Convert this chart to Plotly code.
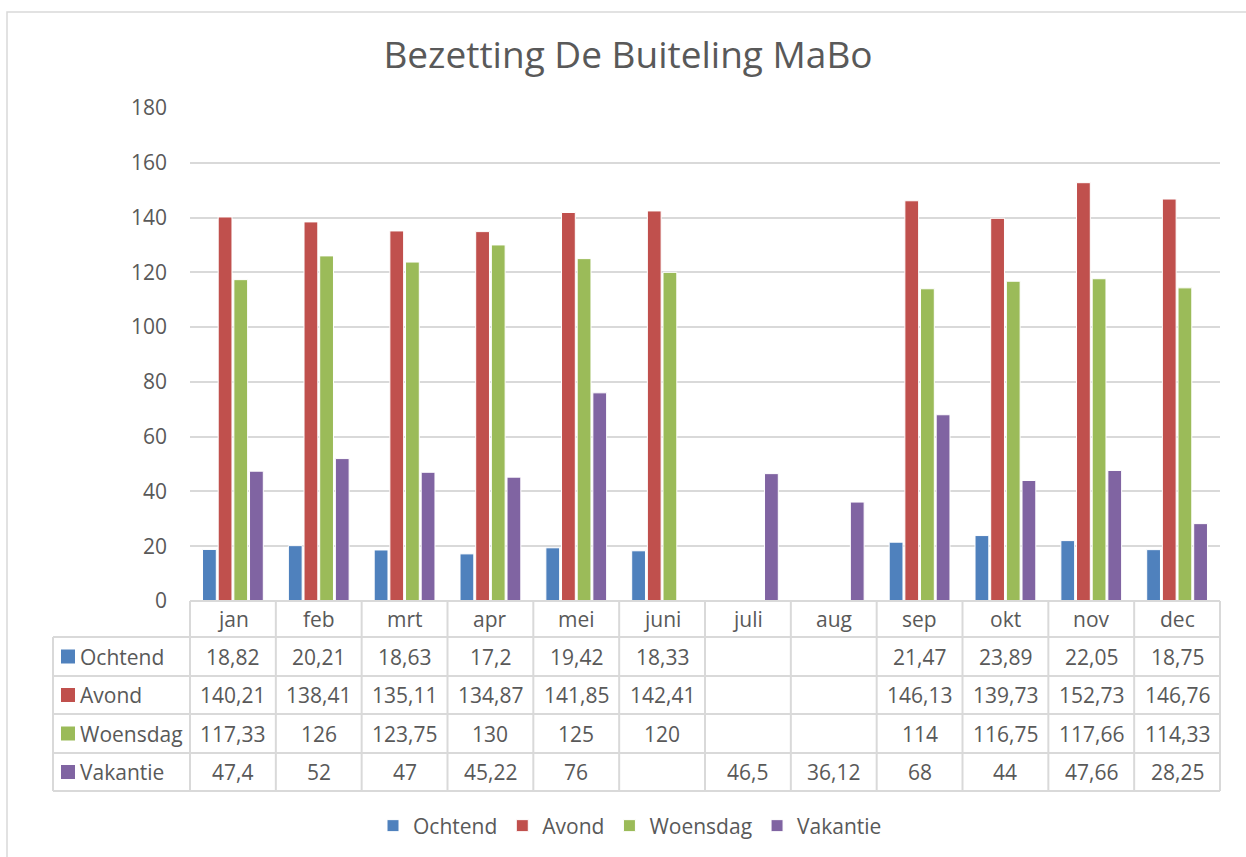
import plotly.graph_objects as go

# data
MONTHS = ["jan", "feb", "mrt", "apr", "mei", "juni", "juli", "aug", "sep", "okt", "nov", "dec"]
OCHTEND  = [18.82, 20.21, 18.63, 17.2, 19.42, 18.33, None, None, 21.47, 23.89, 22.05, 18.75]
AVOND    = [140.21, 138.41, 135.11, 134.87, 141.85, 142.41, None, None, 146.13, 139.73, 152.73, 146.76]
WOENSDAG = [117.33, 126, 123.75, 130, 125, 120, None, None, 114, 116.75, 117.66, 114.33]
VAKANTIE = [47.4, 52, 47, 45.22, 76, None, 46.5, 36.12, 68, 44, 47.66, 28.25]
SERIES = [("Ochtend", OCHTEND), ("Avond", AVOND), ("Woensdag", WOENSDAG), ("Vakantie", VAKANTIE)]

COLORS = ["#4F81BD", "#C0504D", "#9BBB59", "#8064A2"]
TEXT = "#595959"
LINE = "#D9D9D9"
FONT = "Open Sans"
FS = 21

W, H = 1246, 857
# plot area in screenshot pixels: x 190..1220, y 108..601
ML, MR, MT, MB = 190, 1246 - 1220, 108, 857 - 601
PW, PH = W - ML - MR, H - MT - MB


def px(x):
    return (x - ML) / PW


def py(y):
    return (MT + PH - y) / PH


def fmt(v):
    return "" if v is None else f"{v:g}".replace(".", ",")


fig = go.Figure()
for (name, vals), col in zip(SERIES, COLORS):
    fig.add_bar(name=name, x=MONTHS, y=vals, marker_color=col,
                marker_line=dict(color="white", width=1))

# table grid
row_y = [601, 637, 676, 714, 753, 791]
n = len(MONTHS)
shapes = [dict(type="rect", xref="paper", yref="paper", x0=px(7), x1=px(1260),
               y0=py(12), y1=py(870), line=dict(color=LINE, width=1.5))]
for i, y in enumerate(row_y):
    x0 = 190 if i == 0 else 53
    shapes.append(dict(type="line", xref="paper", yref="paper", x0=px(x0), x1=1,
                       y0=py(y), y1=py(y), line=dict(color=LINE, width=2)))
shapes.append(dict(type="line", xref="paper", yref="paper", x0=px(53), x1=px(53),
                   y0=py(637), y1=py(791), line=dict(color=LINE, width=2)))
for k in range(n + 1):
    xx = k / n
    shapes.append(dict(type="line", xref="paper", yref="paper", x0=xx, x1=xx,
                       y0=py(601), y1=py(791), line=dict(color=LINE, width=2)))

ann = []
for m in MONTHS:
    ann.append(dict(x=m, xref="x", y=py(619), yref="paper", text=m, showarrow=False,
                    xanchor="center", yanchor="middle",
                    font=dict(size=FS, color=TEXT, family=FONT)))
for r, ((name, vals), col) in enumerate(zip(SERIES, COLORS)):
    yc = (row_y[r + 1] + row_y[r + 2]) / 2
    for m, v in zip(MONTHS, vals):
        ann.append(dict(x=m, xref="x", y=py(yc), yref="paper", text=fmt(v), showarrow=False,
                        xanchor="center", yanchor="middle",
                        font=dict(size=FS, color=TEXT, family=FONT)))
    shapes.append(dict(type="rect", xref="paper", yref="paper", x0=px(61), x1=px(75),
                       y0=py(yc - 7), y1=py(yc + 7), fillcolor=col, line_width=0))
    ann.append(dict(x=px(78), xref="paper", y=py(yc), yref="paper", text=name, showarrow=False,
                    xanchor="left", yanchor="middle",
                    font=dict(size=FS, color=TEXT, family=FONT)))

fig.update_layout(
    width=W, height=H,
    margin=dict(l=ML, r=MR, t=MT, b=MB),
    paper_bgcolor="white", plot_bgcolor="white",
    font=dict(family=FONT, color=TEXT, size=FS),
    title=dict(text="Bezetting De Buiteling MaBo", x=628 / W, xanchor="center",
               y=1 - 55 / H, yanchor="middle", font=dict(size=37, color=TEXT, family=FONT)),
    barmode="group", bargap=0.27, bargroupgap=0.12,
    xaxis=dict(showticklabels=False, showgrid=False, showline=False, ticks=""),
    yaxis=dict(range=[0, 180], dtick=20, gridcolor=LINE, gridwidth=1.5, zeroline=False,
               showline=False, ticklabelstandoff=22, tickfont=dict(size=FS, color=TEXT)),
    legend=dict(orientation="h", x=630 / W, xanchor="center", xref="container",
                y=1 - 826 / H, yref="container", yanchor="middle",
                font=dict(size=FS, color=TEXT), itemwidth=30, traceorder="normal"),
    shapes=shapes, annotations=ann,
)

# drop the default page margin so the figure sits at the top-left corner
fig.write_html("out.html", config={"displayModeBar": False},
               post_script="document.body.style.margin='0px';")
